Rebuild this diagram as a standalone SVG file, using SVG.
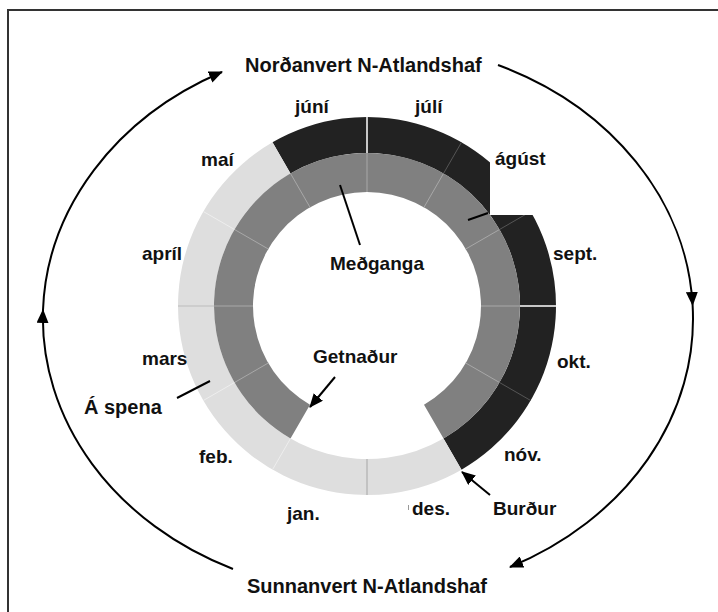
<svg xmlns="http://www.w3.org/2000/svg" width="718" height="612" viewBox="0 0 718 612">
<style>
text{font-family:"Liberation Sans",Arial,Helvetica,sans-serif;font-weight:bold;font-size:19px;fill:#111}
.big{font-size:20px}
.ln{fill:none;stroke:#000;stroke-width:2}
.dv{stroke-width:1;fill:none}
</style>
<defs>
<marker id="ah" markerUnits="userSpaceOnUse" markerWidth="14" markerHeight="12" refX="13" refY="6" orient="auto">
<path d="M0,0 L14,6 L0,12 z" fill="#000"/>
</marker>
</defs>
<rect width="718" height="612" fill="#fff"/>
<path d="M8,612 V10 H718" fill="none" stroke="#333" stroke-width="2"/>
<g id="ring">
<path id="dark" d="M272.5,142.32 A189,189 0 0 1 530.68,211.5 A189,189 0 0 1 461.5,469.68 L443.5,438.5 A153,153 0 0 0 499.5,229.5 A153,153 0 0 0 290.5,173.5 Z" fill="#222"/>
<path id="light" d="M461.5,469.68 A189,189 0 0 1 203.32,400.5 A189,189 0 0 1 272.5,142.32 L290.5,173.5 A153,153 0 0 0 234.5,382.5 A153,153 0 0 0 443.5,438.5 Z" fill="#dedede"/>
<path id="mid" d="M290.5,438.5 A153,153 0 1 1 443.5,438.5 L424,404.73 A114,114 0 1 0 310,404.73 Z" fill="#808080"/>
<g class="dv">
<line x1="367" y1="192" x2="367" y2="153" stroke="#a8a8a8"/>
<line x1="367" y1="153" x2="367" y2="117" stroke="#fff" stroke-width="1.5"/>
<line x1="424" y1="207.27" x2="443.5" y2="173.5" stroke="#a8a8a8"/>
<line x1="443.5" y1="173.5" x2="461.5" y2="142.32" stroke="#555"/>
<line x1="465.73" y1="249" x2="499.5" y2="229.5" stroke="#a8a8a8"/>
<line x1="499.5" y1="229.5" x2="530.68" y2="211.5" stroke="#555"/>
<line x1="481" y1="306" x2="520" y2="306" stroke="#a8a8a8"/>
<line x1="520" y1="306" x2="556" y2="306" stroke="#fff" stroke-width="1.5"/>
<line x1="465.73" y1="363" x2="499.5" y2="382.5" stroke="#a8a8a8"/>
<line x1="499.5" y1="382.5" x2="530.68" y2="400.5" stroke="#555"/>
<line x1="367" y1="459" x2="367" y2="495" stroke="#a6a6a6"/>
<line x1="290.5" y1="438.5" x2="272.5" y2="469.68" stroke="#eee"/>
<line x1="268.27" y1="363" x2="234.5" y2="382.5" stroke="#a8a8a8"/>
<line x1="234.5" y1="382.5" x2="203.32" y2="400.5" stroke="#eee"/>
<line x1="253" y1="306" x2="214" y2="306" stroke="#a8a8a8"/>
<line x1="214" y1="306" x2="178" y2="306" stroke="#bcbcbc"/>
<line x1="268.27" y1="249" x2="234.5" y2="229.5" stroke="#a8a8a8"/>
<line x1="234.5" y1="229.5" x2="203.32" y2="211.5" stroke="#eee"/>
<line x1="310" y1="207.27" x2="290.5" y2="173.5" stroke="#a8a8a8"/>
</g>
<rect x="490" y="140" width="70" height="75" fill="#fff"/>
</g>
<g id="labels-months">
<text id="m-juni" x="295" y="113">júní</text>
<text id="m-juli" x="415" y="113">júlí</text>
<text id="m-mai" x="201" y="166">maí</text>
<text id="m-agust" x="495" y="165">ágúst</text>
<text id="m-april" x="142" y="260">apríl</text>
<text id="m-sept" x="553" y="260">sept.</text>
<text id="m-mars" x="142" y="365">mars</text>
<text id="m-okt" x="557" y="368">okt.</text>
<text id="m-feb" x="199" y="463">feb.</text>
<text id="m-nov" x="504" y="461">nóv.</text>
<text id="m-jan" x="287" y="520">jan.</text>
<text id="m-des" x="412" y="515">des.</text>
</g>
<g id="n-nordan"><text class="big" x="245" y="72">Norðanvert N-Atlandshaf</text></g>
<g id="n-sunnan"><text class="big" x="247" y="593">Sunnanvert N-Atlandshaf</text></g>
<g id="n-medganga"><text x="330" y="270">Meðganga</text></g>
<g id="n-getnadur"><text x="313" y="363">Getnaður</text></g>
<g id="n-burdur"><text x="493" y="515">Burður</text></g>
<g id="n-spena"><text class="big" x="84" y="414">Á spena</text></g>
<g id="connectors">
<path class="ln" d="M233,569 A325,276 0 0 1 43,310" marker-end="url(#ah)"/>
<path class="ln" d="M43,310 A325,276 0 0 1 222,72" marker-end="url(#ah)"/>
<path class="ln" d="M498,65 A325,276 0 0 1 692.6,305" marker-end="url(#ah)"/>
<path class="ln" d="M692.6,305 A325,276 0 0 1 510,567" marker-end="url(#ah)"/>
<line class="ln" x1="340" y1="185" x2="360" y2="245"/>
<line class="ln" x1="468" y1="220" x2="488" y2="213"/>
<line class="ln" x1="177" y1="398" x2="210" y2="381"/>
<line class="ln" x1="335" y1="377" x2="310" y2="407" marker-end="url(#ah)"/>
<line class="ln" x1="490" y1="495" x2="462" y2="472" marker-end="url(#ah)"/>
<line x1="408.5" y1="505" x2="408.5" y2="510" stroke="#999" stroke-width="1"/>
</g>
</svg>
